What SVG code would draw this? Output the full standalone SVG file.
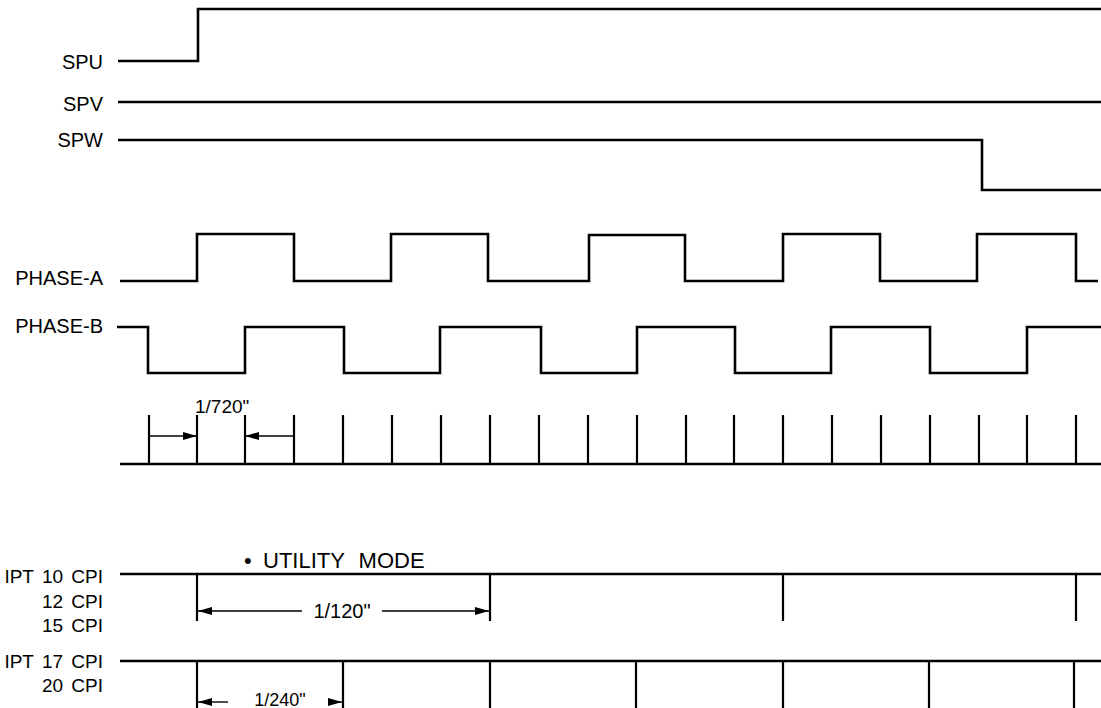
<svg xmlns="http://www.w3.org/2000/svg" width="1101" height="708" viewBox="0 0 1101 708">
<defs>
<style>
.sig{fill:none;stroke:#000;stroke-width:2.6;stroke-linejoin:miter;stroke-linecap:butt}
.tk{fill:none;stroke:#000;stroke-width:2.2}
.dim{fill:none;stroke:#000;stroke-width:1.4}
.lbl{font-family:"Liberation Sans",Arial,sans-serif;font-size:20px;fill:#000}
.dl{font-family:"Liberation Sans",Arial,sans-serif;font-size:19px;fill:#000}
.cpi{font-family:"Liberation Sans",Arial,sans-serif;font-size:19px;fill:#000;word-spacing:3px}
.hd{font-family:"Liberation Sans",Arial,sans-serif;font-size:22px;fill:#000;word-spacing:8px}
</style>
<marker id="ah" viewBox="0 0 14 8" refX="14" refY="4" markerWidth="14" markerHeight="8" markerUnits="userSpaceOnUse" orient="auto">
<path d="M0,0 L14,4 L0,8 Z" fill="#000"/>
</marker>
</defs>
<rect width="1101" height="708" fill="#fff"/>
<g id="labels">
<text class="lbl" x="103" y="69" text-anchor="end">SPU</text>
<text class="lbl" x="103" y="111" text-anchor="end">SPV</text>
<text class="lbl" x="103" y="147" text-anchor="end">SPW</text>
<text class="lbl" x="103" y="285" text-anchor="end">PHASE-A</text>
<text class="lbl" x="103" y="333" text-anchor="end">PHASE-B</text>
<text class="dl" x="195" y="413">1/720"</text>
<text class="hd" x="244" y="568">•</text>
<text class="hd" x="263" y="568">UTILITY MODE</text>
<text class="cpi" x="103" y="583" text-anchor="end">IPT 10 CPI</text>
<text class="cpi" x="103" y="608" text-anchor="end">12 CPI</text>
<text class="cpi" x="103" y="632" text-anchor="end">15 CPI</text>
<text class="cpi" x="103" y="668" text-anchor="end">IPT 17 CPI</text>
<text class="cpi" x="103" y="692" text-anchor="end">20 CPI</text>
<text class="lbl" x="342" y="618" text-anchor="middle">1/120"</text>
<text class="dl" x="280" y="706" text-anchor="middle" style="font-size:18px">1/240"</text>
</g>
<g id="signals">
<path id="spu" class="sig" d="M118,61 H198 V9 H1101"/>
<path id="spv" class="sig" d="M118,102 H1101"/>
<path id="spw" class="sig" d="M118,140 H982 V190 H1101"/>
<path id="phase-a" class="sig" d="M120,281 H197 V234 H294 V281 H391 V234 H488 V281 H589 V235 H685 V281 H783 V234 H880 V281 H977 V234 H1076 V281 H1098"/>
<path id="phase-b" class="sig" d="M117,327 H148 V373 H245 V327 H344 V373 H440 V327 H541 V373 H637 V327 H735 V373 H831 V327 H930 V373 H1027 V327 H1101"/>
</g>
<g id="ticks">
<path class="sig" d="M120,464 H1101"/>
<path class="tk" d="M149,415 V464 M197,415 V464 M245,415 V464 M294,415 V464 M343,415 V464 M392,415 V464 M441,415 V464 M490,415 V464 M539,415 V464 M588,415 V464 M637,415 V464 M686,415 V464 M734,415 V464 M783,415 V464 M832,415 V464 M881,415 V464 M930,415 V464 M979,415 V464 M1027,415 V464 M1076,415 V464"/>
</g>
<g id="utility10">
<path class="sig" d="M120,574 H1101"/>
<path class="tk" d="M197,574 V621 M490,574 V621 M783,574 V621 M1076,574 V621"/>
</g>
<g id="utility17">
<path class="sig" d="M120,661 H1101"/>
<path class="tk" d="M197,661 V708 M343,661 V708 M490,661 V708 M636,661 V708 M783,661 V708 M929,661 V708 M1074,661 V708"/>
</g>
<g id="connectors">
<line class="dim" x1="149" y1="436" x2="197" y2="436" marker-end="url(#ah)"/>
<line class="dim" x1="294" y1="436" x2="245" y2="436" marker-end="url(#ah)"/>
<line class="dim" x1="302" y1="611" x2="198" y2="611" marker-end="url(#ah)"/>
<line class="dim" x1="382" y1="611" x2="489" y2="611" marker-end="url(#ah)"/>
<line class="dim" x1="228" y1="702" x2="198" y2="702" marker-end="url(#ah)"/>
<line class="dim" x1="329" y1="702" x2="342" y2="702" marker-end="url(#ah)"/>
</g>
</svg>
